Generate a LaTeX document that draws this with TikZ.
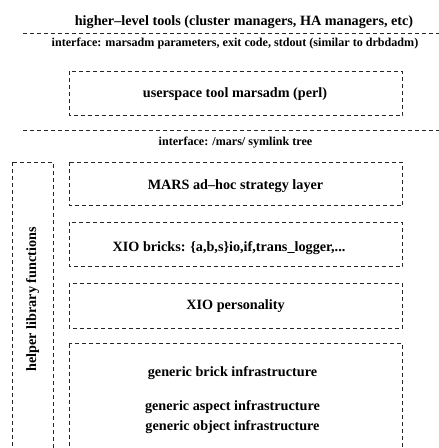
\documentclass[tikz,border=0pt]{standalone}
\usepackage{fontspec}
\setmainfont{Liberation Serif}
\begin{document}
\begin{tikzpicture}[x=1pt,y=-1pt,
  dbox/.style={draw=black!85,line width=0.8pt,dash pattern=on 4pt off 3pt},
  dline/.style={draw=black!85,line width=0.8pt,dash pattern=on 4pt off 3pt},
  big/.style={font=\fontsize{14.2}{16}\selectfont\bfseries,anchor=base,inner sep=0pt},
  small/.style={font=\fontsize{12.1}{14}\selectfont\bfseries,anchor=base,inner sep=0pt}]
\useasboundingbox (0,0) rectangle (439,448);
\clip (0,0) rectangle (439,448);
% title
\node[big] (title) at (244,25.5) {higher\textendash level tools (cluster managers, HA managers, etc)};
\draw[dline] (23,33) -- (441,33);
\node[small] (if1) at (235,46) {interface: marsadm parameters, exit code, stdout (similar to drbdadm)};
% userspace
\draw[dbox] (69,71) rectangle (402.5,115.5);
\node[big] (user) at (235,97.5) {userspace tool marsadm (perl)};
\draw[dline] (23,130.5) -- (441,130.5);
\node[small] (if2) at (235.5,145) {interface: /mars/ symlink tree};
% helper
\draw[dbox] (12,162) rectangle (53,470);
\node[big,rotate=90] (helper) at (36,299.5) {helper library functions};
% MARS
\draw[dbox] (69,162) rectangle (402.5,205.5);
\node[big] (mars) at (235.5,189.5) {MARS ad\textendash hoc strategy layer};
% XIO bricks
\draw[dbox] (69,222) rectangle (402.5,266.5);
\node[big] (bricks) at (229,251) {XIO bricks: \{a,b,s\}io,if,trans\_logger,...};
% XIO personality
\draw[dbox] (69,283) rectangle (402.5,328);
\node[big] (pers) at (235.5,309) {XIO personality};
% generic
\draw[dbox] (69,343.5) rectangle (402.5,470);
\node[big] (brick) at (232.5,376.5) {generic brick infrastructure};
\node[big] (aspect) at (232.5,410) {generic aspect infrastructure};
\node[big] (object) at (232.5,430) {generic object infrastructure};
\end{tikzpicture}
\end{document}
